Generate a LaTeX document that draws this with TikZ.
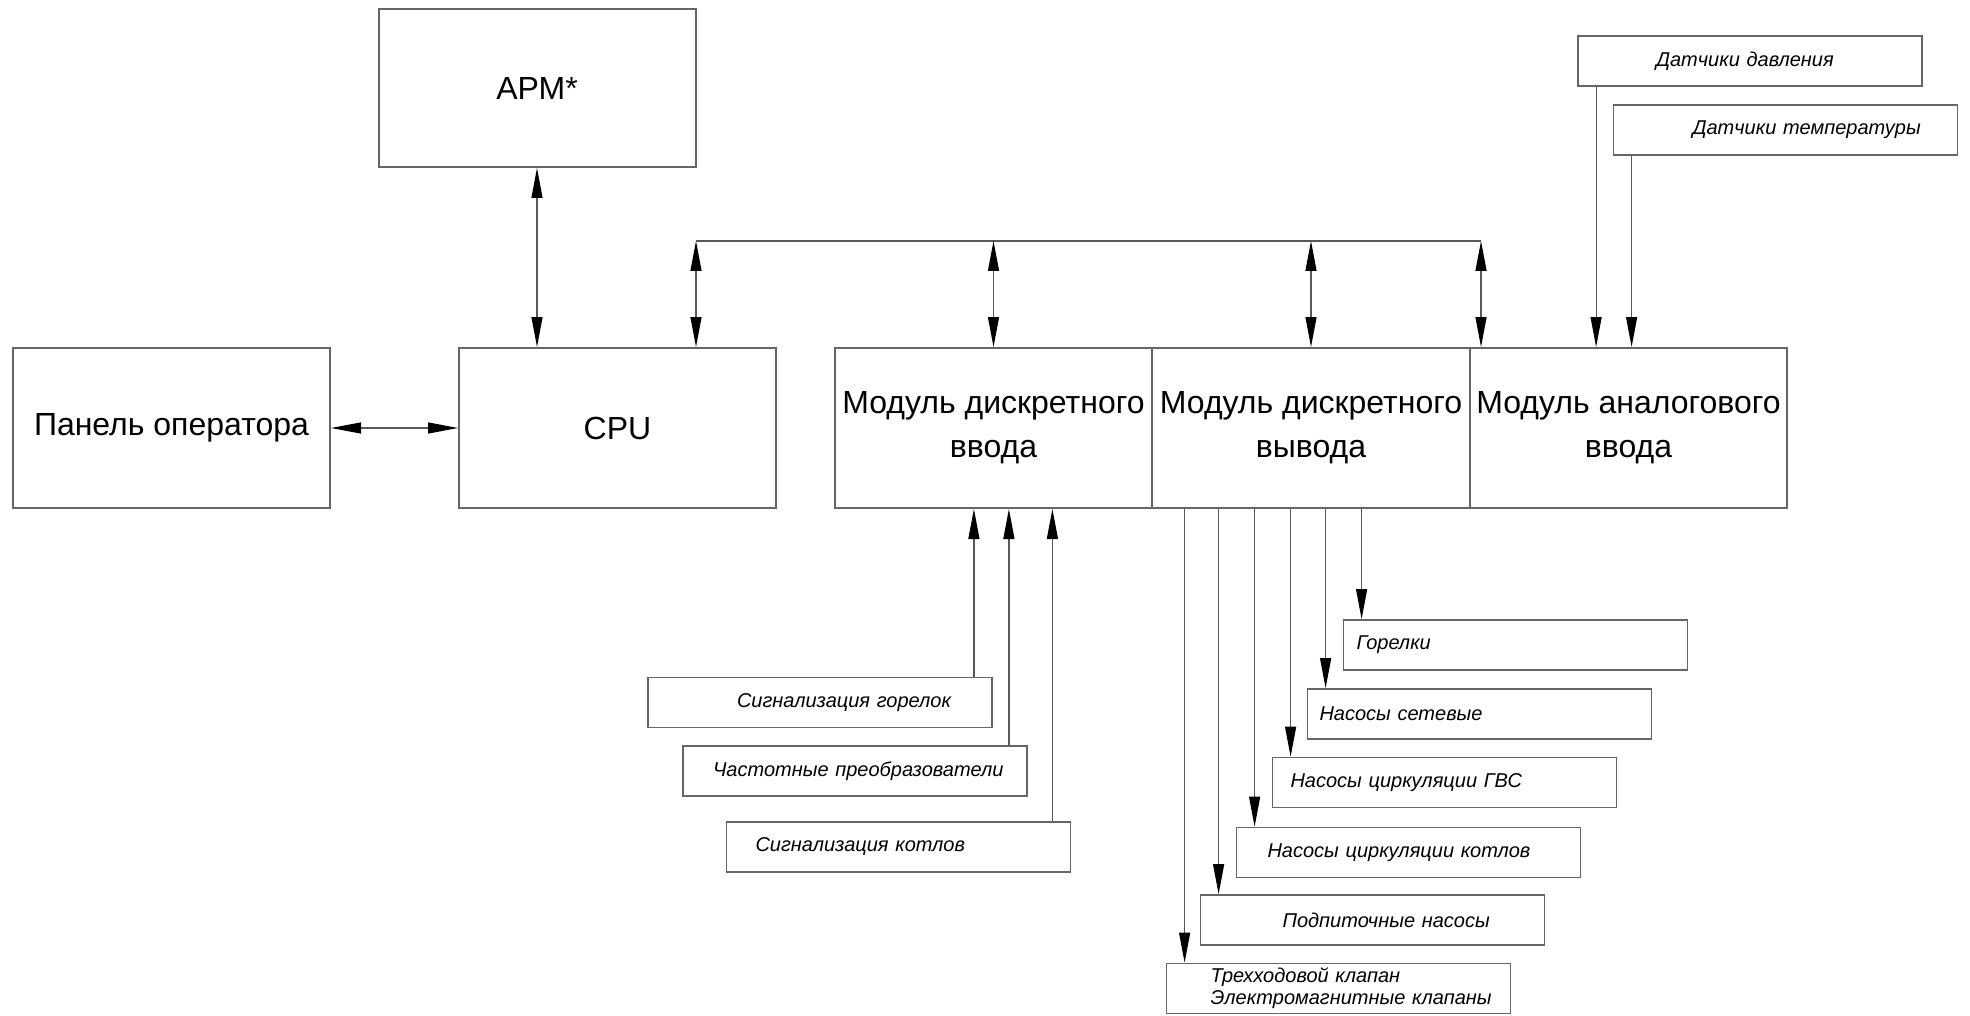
\documentclass[tikz,border=0pt]{standalone}
\usepackage{fontspec}
\setmainfont{Liberation Sans}
\usetikzlibrary{arrows.meta}

\tikzset{
  blk/.style={draw=black!60, line width=1pt, inner sep=0pt, minimum width=158.5pt,
    minimum height=80pt, align=center, font=\fontsize{16}{22}\selectfont},
  tag/.style={draw=black!60, line width=0.9pt, inner sep=0pt, text width=172pt,
    minimum height=25pt, align=left, font=\fontsize{10}{11}\selectfont\itshape},
  link/.style={draw=black!65, line width=0.6pt},
}

\begin{document}
\begin{tikzpicture}[x=0.5pt, y=-0.5pt, >={Triangle[length=15pt,width=5.5pt,color=black]}]
\useasboundingbox (0,0) rectangle (1970,1016);
% Upper level
\node[blk, minimum height=79pt] (apm) at (537,88) {АРМ*};
\node[blk] (panel) at (171.5,428) {Панель оператора};
\node[blk] (cpu) at (617.5,428) {CPU};
% Modules
\node[blk] (din) at (993.5,428) {Модуль дискретного\\ввода};
\node[blk, minimum width=159pt] (dout) at (1311,428) {Модуль дискретного\\вывода};
\node[blk] (ain) at (1628.5,428) {Модуль аналогового\\ввода};
% Bus
\coordinate (busL) at (696,241);
\coordinate (busR) at (1481,241);
\draw[link] (busL) -- (busR);
\draw[link, <->] (busL) -- (busL |- cpu.north);
\draw[link, <->] (din.north |- busL) -- (din.north);
\draw[link, <->] (dout.north |- busL) -- (dout.north);
\draw[link, <->] (busR) -- (busR |- ain.north);
\draw[link, <->] (apm.south) -- (apm.south |- cpu.north);
\draw[link, <->] (panel.east) -- (cpu.west);
% Sensors
\node[tag] (pres) at (1750,61) {\hspace*{39pt}Датчики давления};
\node[tag] (temp) at (1785.5,130) {\hspace*{39.5pt}Датчики температуры};
\coordinate (p1) at ([xshift=9.5pt]pres.south west);
\coordinate (p2) at ([xshift=9.5pt]temp.south west);
\draw[link, ->] (p1) -- (p1 |- ain.north);
\draw[link, ->] (p2) -- (p2 |- ain.north);
% Discrete inputs
\node[tag] (sgor) at (820,702.5) {\hspace*{44.5pt}Сигнализация горелок};
\node[tag] (freq) at (855,771) {\hspace*{15pt}Частотные преобразователи};
\node[tag] (skot) at (898.5,847) {\hspace*{14.5pt}Сигнализация котлов};
\coordinate (s1) at ([xshift=-9.5pt]sgor.north east);
\coordinate (s2) at ([xshift=-9.5pt]freq.north east);
\coordinate (s3) at ([xshift=-9.5pt]skot.north east);
\draw[link, ->] (s1) -- (s1 |- din.south);
\draw[link, ->] (s2) -- (s2 |- din.south);
\draw[link, ->] (s3) -- (s3 |- din.south);
% Discrete outputs
\node[tag] (burn) at (1515.5,645) {\hspace*{6.5pt}Горелки};
\node[tag] (pnet) at (1479.5,714) {\hspace*{6pt}Насосы сетевые};
\node[tag] (pgvs) at (1444.5,782.5) {\hspace*{9pt}Насосы циркуляции ГВС};
\node[tag] (pkot) at (1408.5,852.5) {\hspace*{15.5pt}Насосы циркуляции котлов};
\node[tag] (pfeed) at (1372.5,920) {\hspace*{41pt}Подпиточные насосы};
\node[tag] (valve) at (1338.5,988.5) {\hspace*{22pt}Трехходовой клапан\\\hspace*{22pt}Электромагнитные клапаны};
\coordinate (t1) at ([xshift=9.5pt]burn.north west);
\coordinate (t2) at ([xshift=9.5pt]pnet.north west);
\coordinate (t3) at ([xshift=9.5pt]pgvs.north west);
\coordinate (t4) at ([xshift=9.5pt]pkot.north west);
\coordinate (t5) at ([xshift=9.5pt]pfeed.north west);
\coordinate (t6) at ([xshift=9.5pt]valve.north west);
\draw[link, ->] (t1 |- dout.south) -- (t1);
\draw[link, ->] (t2 |- dout.south) -- (t2);
\draw[link, ->] (t3 |- dout.south) -- (t3);
\draw[link, ->] (t4 |- dout.south) -- (t4);
\draw[link, ->] (t5 |- dout.south) -- (t5);
\draw[link, ->] (t6 |- dout.south) -- (t6);
\end{tikzpicture}
\end{document}
